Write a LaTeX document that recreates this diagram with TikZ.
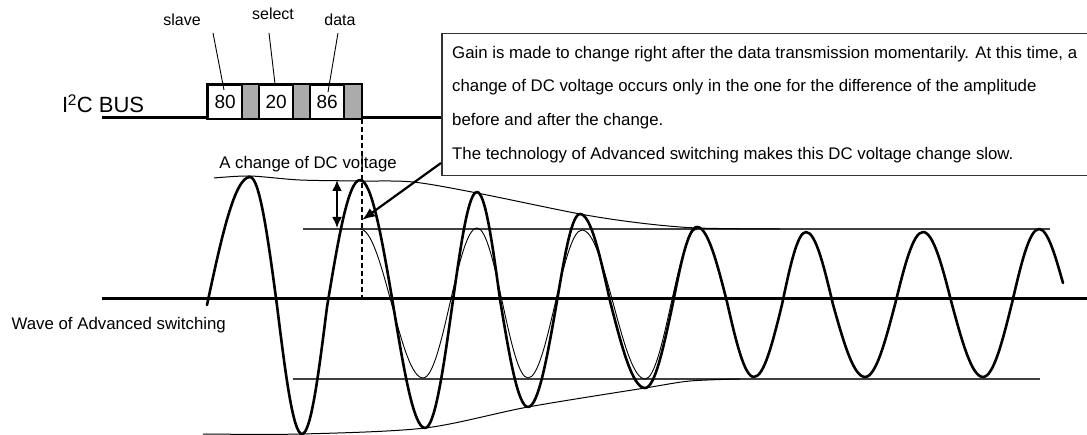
\documentclass[tikz,border=0pt]{standalone}
\usepackage{fontspec}
\setmainfont{Liberation Sans}
\usetikzlibrary{arrows.meta,calc}
\begin{document}
\begin{tikzpicture}[x=1pt,y=-1pt,
  txt/.style={inner sep=0pt, font=\fontsize{16.8}{18}\selectfont},
  lbl/.style={inner sep=0pt, font=\fontsize{16}{18}\selectfont},
  cell/.style={draw, line width=2.2pt, minimum width=34pt, minimum height=34pt, inner sep=0pt, anchor=north west, font=\fontsize{19}{20}\selectfont, fill=white},
  gcell/.style={draw, line width=1pt, fill=black!33, minimum height=34pt, inner sep=0pt, anchor=north west},
  thickwave/.style={line width=2.6pt, line join=round, line cap=round},
  thinwave/.style={line width=0.9pt, line join=round},
  envline/.style={line width=1pt},
  refline/.style={line width=1.3pt, black!75},
  pointer/.style={line width=0.9pt},
]
\useasboundingbox (0,0) rectangle (1087,435);

% callout box
\node[draw, line width=1.5pt, draw=black!80, fill=white, minimum width=660pt, minimum height=142pt, anchor=north west, inner sep=0pt] (callout) at (441,33) {};
\node[txt, anchor=base west] (t1) at (452,59) {Gain is made to change right after the data transmission momentarily. At this time, a};
\node[txt, anchor=base west] (t2) at (452,92) {change of DC voltage occurs only in the one for the difference of the amplitude};
\node[txt, anchor=base west] (t3) at (452,126) {before and after the change.};
\node[txt, anchor=base west] (t4) at (452,160) {The technology of Advanced switching makes this DC voltage change slow.};

% bus
\coordinate (busL) at (102,118);
\draw[line width=3pt] (busL) -- (busL -| callout.west);
\node[inner sep=0pt, anchor=base west, font=\fontsize{22}{24}\selectfont] (bus) at (62,113) {I\kern-0.5pt\textsuperscript{2}C BUS};

% data cells
\node[gcell, minimum width=17pt] (g1) at (241,84) {};
\node[gcell, minimum width=17pt] (g2) at (292,84) {};
\node[gcell, minimum width=18pt] (g3) at (343,84) {};
\node[cell] (b80) at (207,84) {80};
\node[cell] (b20) at (258,84) {20};
\node[cell] (b86) at (309,84) {86};
\draw[line width=2.4pt] (b80.north west) rectangle (g3.south east);

% labels
\node[lbl] (lslave) at (182,20) {slave};
\node[lbl] (lselect) at (273,14) {select};
\node[lbl] (ldata) at (340,20) {data};
\coordinate (p1a) at (213,33); \coordinate (p1b) at (224,90);
\coordinate (p2a) at (269,33); \coordinate (p2b) at (275,84);
\coordinate (p3a) at (338,33); \coordinate (p3b) at (328,92);
\draw[pointer] (p1a) -- (p1b);
\draw[pointer] (p2a) -- (p2b);
\draw[pointer] (p3a) -- (p3b);

% axis
\coordinate (axL) at (102,299);
\coordinate (axR) at (1087,299);
\draw[line width=3pt] (axL) -- (axR);

% reference lines
\draw[refline] (303,229) -- (1050,229);
\draw[refline] (293,379) -- (1040,379);

% envelopes
\draw[envline] plot[smooth, tension=0.5] coordinates {(214,178) (250,176) (300,180) (360,181) (413,182) (477,193) (580,214) (640,223) (697,228) (780,229)};
\draw[envline] plot[smooth, tension=0.5] coordinates {(203,434) (302,434) (425,428) (528,407) (645,388) (690,381) (740,379)};

% thin wave (immediate change)
\draw[thinwave] (360,229) cos (391.5,303.5) sin (423,378) cos (450,303) sin (477,228) cos (502.5,303) sin (528,378) cos (555,304) sin (582,230) cos (613.5,304.5) sin (645,379) cos (671,304) sin (697,229);

% thick wave (advanced switching)
\draw[thickwave] (207,305) sin (250,177) cos (277,305.5) sin (302,434) cos (327,307) sin (360,180) cos (393,304) sin (425,428) cos (453,300) sin (477,192) cos (500,299.5) sin (528,407) cos (557,301) sin (580,214) cos (610,301) sin (645,388) cos (672,307.5) sin (697,227) cos (727,302) sin (754,377) cos (782,304.5) sin (806,232) cos (833,304.5) sin (865,377) cos (895,304.5) sin (923,232) cos (952,304.5) sin (983,377) cos (1012,303) sin (1039,229) cos (1063,283);

% dashed marker
\draw[line width=2pt, dash pattern=on 5pt off 3pt] (g3.south east) -- (g3.south east |- axL);

% DC change label and arrows
\node[txt] (dclabel) at (308,164) {A change of DC voltage};
\coordinate (dA) at (337,180); \coordinate (dB) at (337,228);
\draw[line width=2pt, {Latex[length=11pt,width=10pt]}-{Latex[length=11pt,width=10pt]}] (dA) -- (dB);
\coordinate (cA) at (441,163); \coordinate (cB) at (362,220);
\draw[line width=2.2pt, -{Latex[length=13pt,width=10pt]}] (cA) -- (cB);

% wave label
\node[txt, anchor=east] (wlabel) at (226,325) {Wave of Advanced switching};
\end{tikzpicture}
\end{document}
